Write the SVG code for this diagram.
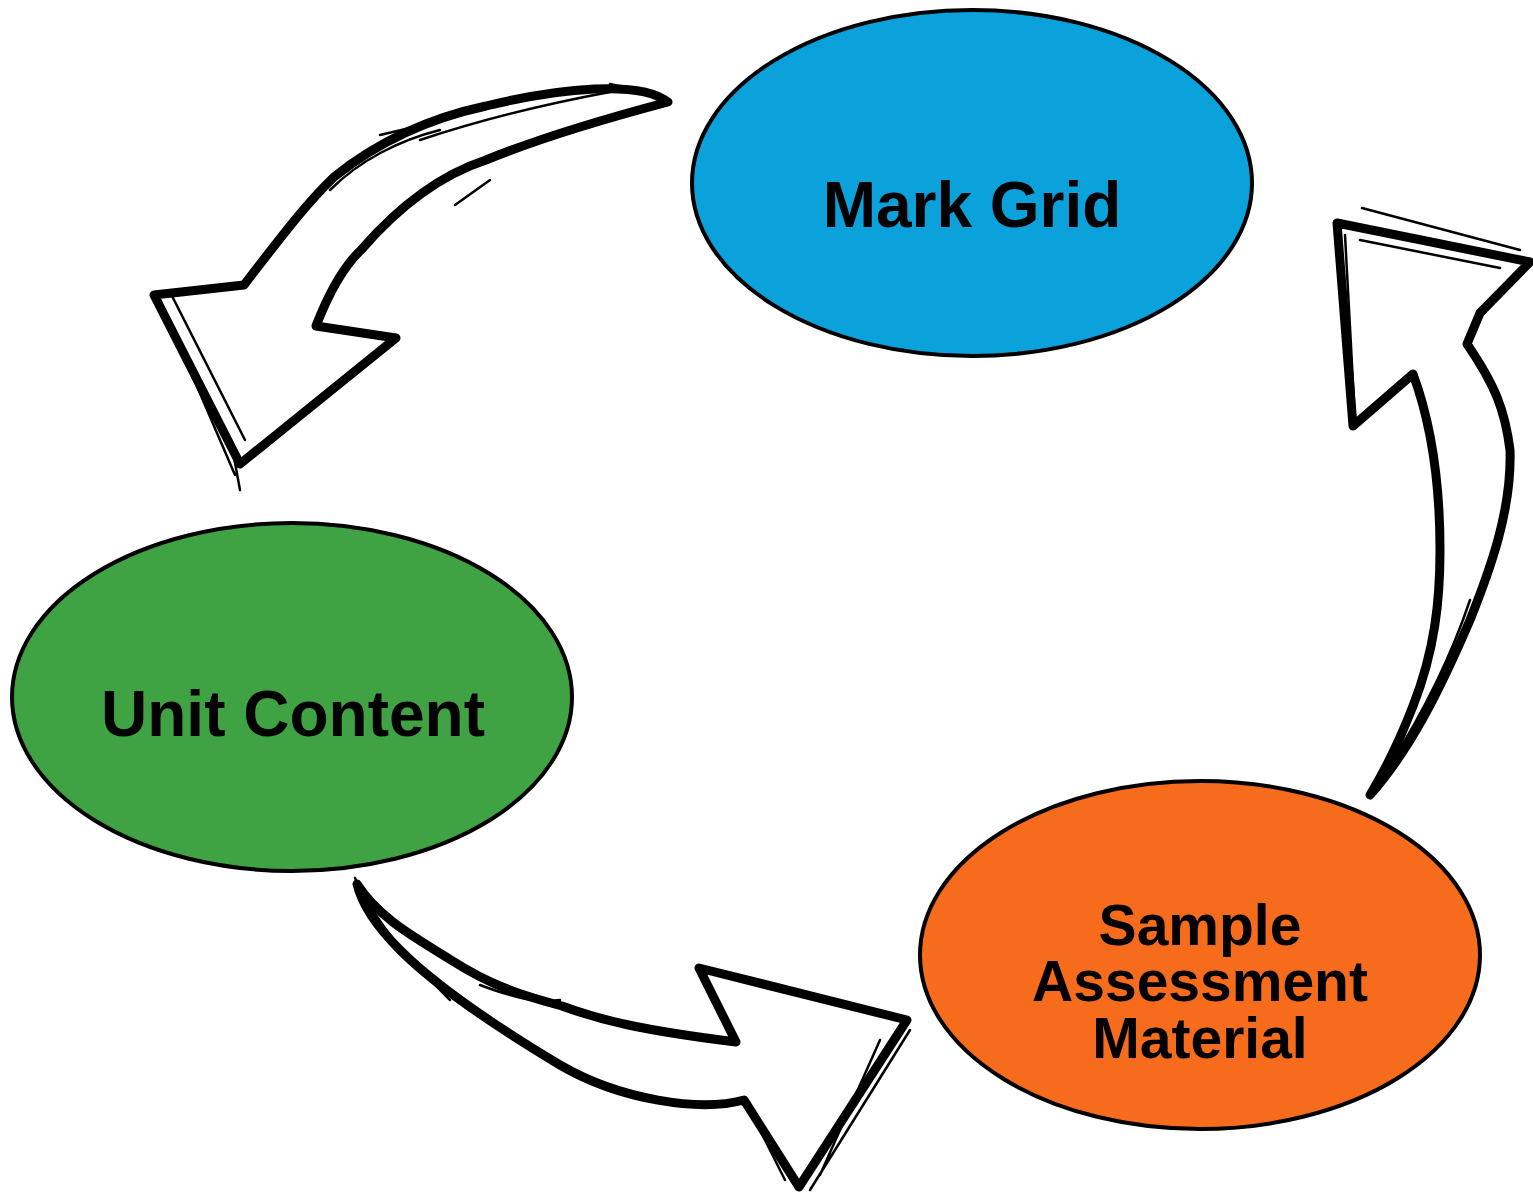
<svg xmlns="http://www.w3.org/2000/svg" width="1533" height="1196" viewBox="0 0 1533 1196">
<style>
.node{stroke:#000;stroke-width:4}
.lbl{font-family:"Liberation Sans",Arial,sans-serif;font-weight:bold;font-size:64px;fill:#000;text-anchor:middle}
.sm{font-size:57px}
.arr{fill:none;stroke:#000;stroke-width:9;stroke-linejoin:round;stroke-linecap:round}
.sk{fill:none;stroke:#000;stroke-width:2.5;stroke-linecap:round}
</style>
<rect width="1533" height="1196" fill="#fff"/>
<g id="connectors">
<g id="arrow-unit-to-mark">
<path class="arr" d="M668,102 C640,80 560,88 486,106 C430,118 380,140 334,177 C310,200 290,225 244,285 L154,295 L240,464 L396,338 L316,326 C330,290 345,265 361,250 C400,205 440,175 486,160 C540,138 600,120 668,102 Z"/>
<path class="sk" d="M160,300 L235,475 M170,292 L245,440 M420,140 C480,120 540,105 610,92 M330,190 C360,160 400,140 440,130 M233,452 L240,490 M380,135 L410,128 M455,205 L490,180 M610,84 L660,96"/>
</g>
<g id="arrow-mark-to-sample">
<path class="arr" d="M1370,795 C1410,750 1440,690 1470,620 C1490,570 1512,510 1510,450 C1505,410 1495,385 1467,344 L1480,313 L1530,262 L1337,223 L1353,426 L1413,374 C1430,420 1440,480 1440,550 C1440,600 1435,650 1413,706 C1400,740 1385,770 1370,795 Z"/>
<path class="sk" d="M1362,208 L1520,250 M1345,235 L1355,420 M1380,780 C1420,720 1450,660 1470,600 M1420,690 C1430,640 1438,600 1438,560 M1360,240 L1500,268"/>
</g>
<g id="arrow-sample-to-unit">
<path class="arr" d="M357,884 C380,920 420,940 451,960 C490,985 520,995 562,1006 C600,1020 640,1030 736,1042 L699,968 L907,1020 L799,1187 L744,1100 C700,1112 620,1100 560,1065 C510,1035 440,990 400,950 C375,925 362,905 357,884 Z"/>
<path class="sk" d="M355,878 C380,930 410,960 450,1000 M480,985 C520,1000 540,1003 560,1000 M820,1175 L880,1040 M910,1030 L810,1190 M745,1100 L785,1180 M505,985 L540,1000"/>
</g>
</g>
<g id="node-mark-grid">
<ellipse class="node" cx="972" cy="183" rx="280" ry="173" fill="#0BA1DB"/>
<text class="lbl" x="972" y="227">Mark Grid</text>
</g>
<g id="node-unit-content">
<ellipse class="node" cx="292" cy="697" rx="280" ry="174" fill="#40A343"/>
<text class="lbl" x="293" y="736">Unit Content</text>
</g>
<g id="node-sample">
<ellipse class="node" cx="1200" cy="955" rx="280" ry="174" fill="#F76C1C"/>
<text class="lbl sm" x="1200" y="945">Sample</text>
<text class="lbl sm" x="1200" y="1001">Assessment</text>
<text class="lbl sm" x="1200" y="1058">Material</text>
</g>
</svg>
